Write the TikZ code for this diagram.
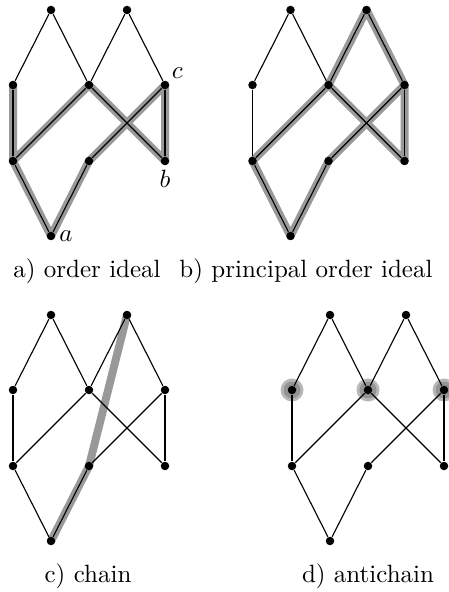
\documentclass[tikz,border=0pt]{standalone}
\usetikzlibrary{backgrounds}

\begin{document}
\begin{tikzpicture}[x=0.4pt,y=-0.4pt,
  dot/.style={circle,fill=black,inner sep=0pt,minimum size=3.4pt},
  edge/.style={line width=0.45pt},
  hl/.style={line width=3.2pt,black!40,line join=round,line cap=round},
  caption/.style={anchor=base,inner sep=0pt}
]
\useasboundingbox (0,0) rectangle (448,592);
% the four copies of the poset
\foreach \p/\dx/\dy in {a/0/0,b/239.5/0,c/0/305,d/279/305}{
  \begin{scope}[shift={(\dx,\dy)}]
    \foreach \n/\x/\y in {t1/51/10,t2/127/10,m1/13/85,m2/89/85,m3/165/85,
                          l1/13/161,l2/89/161,l3/165/161,z/51/236}
      \node[dot] (\p\n) at (\x,\y) {};
  \end{scope}
  \foreach \u/\v in {t1/m1,t1/m2,t2/m2,t2/m3,m1/l1,m2/l1,m2/l3,m3/l2,m3/l3,l1/z,l2/z}
    \draw[edge] (\p\u) -- (\p\v);
}
% highlights
\begin{scope}[on background layer]
  \draw[hl] (am1.center) -- (al1.center) -- (am2.center) -- (al3.center)
            -- (am3.center) -- (al2.center) -- (az.center) -- (al1.center);
  \draw[hl] (bt2.center) -- (bm2.center) -- (bl1.center) -- (bz.center)
            -- (bl2.center) -- (bm3.center) -- cycle;
  \draw[hl] (bm2.center) -- (bl3.center) -- (bm3.center);
  \draw[hl] (cz.center) -- (cl2.center) -- (ct2.center);
  \foreach \n in {m1,m2,m3}{
    \fill[black!28] (d\n) circle (4.6pt);
    \fill[black!42] (d\n) circle (3.4pt);
  }
\end{scope}
% labels
\node[anchor=west,inner sep=1.2pt] (lbla) at (az.east) {$a$};
\node[anchor=north,inner sep=1.5pt] (lblb) at (al3.south) {$b$};
\node[anchor=south west,inner sep=1.2pt] (lblc) at (am3.north east) {$c$};
% captions
\node[caption] (capa) at (87,277) {a) order ideal};
\node[caption] (capb) at (306,277) {b) principal order ideal};
\node[caption] (capc) at (88,582) {c) chain};
\node[caption] (capd) at (368,582) {d) antichain};
\end{tikzpicture}
\end{document}
